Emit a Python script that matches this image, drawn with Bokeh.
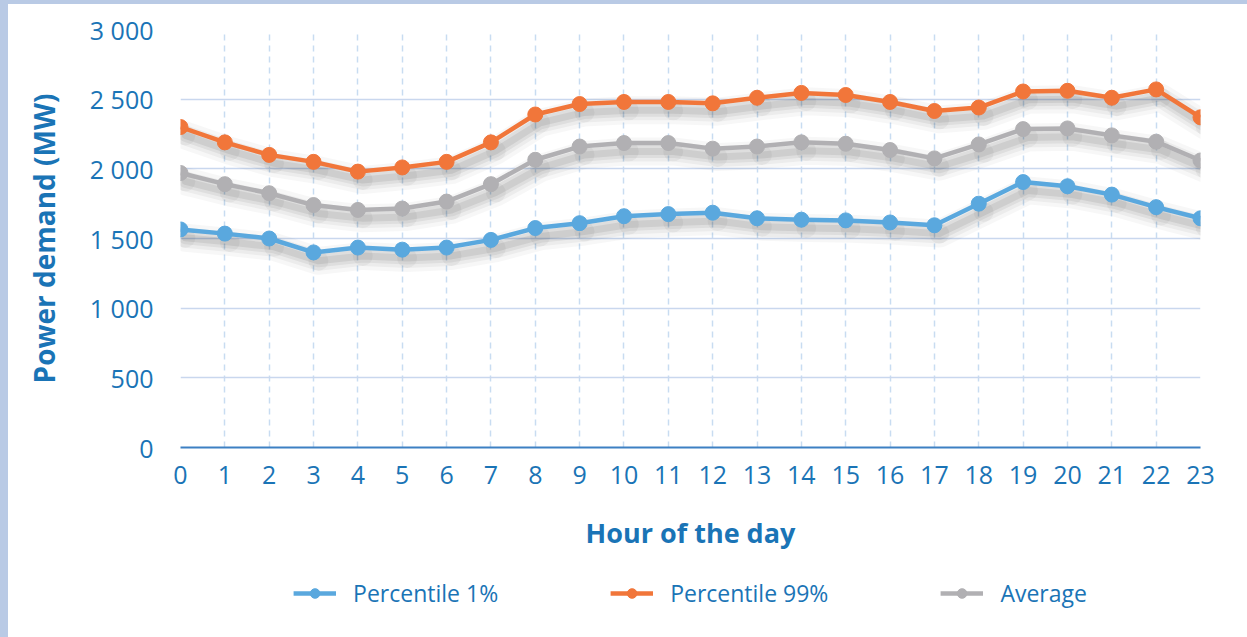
from bokeh.plotting import figure
from bokeh.models import Legend, LegendItem, Range1d, FixedTicker, Div
from bokeh.layouts import column, row
from bokeh.embed import file_html
from bokeh.resources import INLINE

hours = list(range(24))
p1 = [1565, 1535, 1500, 1400, 1435, 1420, 1435, 1490, 1575, 1610, 1660, 1675,
      1685, 1645, 1635, 1630, 1615, 1595, 1750, 1905, 1875, 1815, 1725, 1645]
p99 = [2300, 2190, 2100, 2050, 1980, 2010, 2050, 2190, 2390, 2465, 2480, 2480,
       2470, 2510, 2545, 2530, 2480, 2415, 2440, 2555, 2560, 2510, 2570, 2370]
avg = [1970, 1890, 1825, 1740, 1705, 1715, 1765, 1890, 2065, 2160, 2185, 2185,
       2145, 2160, 2190, 2180, 2135, 2075, 2175, 2285, 2290, 2240, 2195, 2060]
series_names = ["Percentile 1%", "Percentile 99%", "Average"]
y_ticks = [0, 500, 1000, 1500, 2000, 2500, 3000]
y_tick_labels = ["0", "500", "1 000", "1 500", "2 000", "2 500", "3 000"]
x_title = "Hour of the day"
y_title = "Power demand (MW)"

BLUE = "#5aa8de"
ORANGE = "#f1763a"
GREY = "#b1b0b3"
TEXT = "#1a74b6"
FRAME = "#b9cae5"
FONT = "Open Sans"

p = figure(width=1231, height=561, output_backend="svg", toolbar_location=None,
           x_range=Range1d(0, 23), y_range=Range1d(0, 3000),
           min_border_left=172, min_border_right=39, min_border_top=25,
           min_border_bottom=118)
p.outline_line_color = None
p.background_fill_color = "white"
p.border_fill_color = "white"

# soft drop shadows under the lines
sx = 0.11
sy = -60
for series in (p1, p99, avg):
    xs = [h + sx for h in hours]
    ys = [v + sy for v in series]
    for w, a in ((28, 0.03), (20, 0.045), (13, 0.06), (7, 0.07)):
        p.line(xs, ys, line_width=w, line_color="black", line_alpha=a,
               line_join="round", line_cap="round")
    p.scatter(xs, ys, size=20, fill_color="black", fill_alpha=0.04,
              line_color=None)

styles = []
for name, series, col in zip(series_names, (p1, p99, avg), (BLUE, ORANGE, GREY)):
    p.line(hours, series, line_color=col, line_width=4.5, line_join="round")
    p.scatter(hours, series, size=15, fill_color=col, line_color=col)
    styles.append((name, col))

p.xaxis.ticker = FixedTicker(ticks=hours)
p.yaxis.ticker = FixedTicker(ticks=y_ticks)
p.yaxis.major_label_overrides = {t: lab for t, lab in zip(y_ticks, y_tick_labels)}

for ax in (p.xaxis[0], p.yaxis[0]):
    ax.major_tick_line_color = None
    ax.minor_tick_line_color = None
    ax.major_label_text_font = FONT
    ax.major_label_text_font_size = "25px"
    ax.major_label_text_color = TEXT
    ax.axis_label_text_font = FONT
    ax.axis_label_text_font_style = "bold"
    ax.axis_label_text_color = TEXT

p.yaxis.axis_line_color = None
p.yaxis.major_label_standoff = 21
p.yaxis.axis_label = y_title
p.yaxis.axis_label_text_font_size = "28px"
p.yaxis.axis_label_standoff = 24

p.xaxis.axis_line_color = "#3d80c3"
p.xaxis.axis_line_width = 2
p.xaxis.major_label_standoff = 12
p.xaxis.axis_label = x_title
p.xaxis.axis_label_text_font_size = "27px"
p.xaxis.axis_label_standoff = 27

p.ygrid.grid_line_color = "#c9d7ee"
p.ygrid.grid_line_width = 1.5
p.xgrid.grid_line_color = "#c8dcf1"
p.xgrid.grid_line_width = 1.5
p.xgrid.grid_line_dash = "6 5"

# legend in its own strip below the chart (its glyph renderers sit off-range)
lf = figure(width=1231, height=56, output_backend="svg", toolbar_location=None,
            x_range=Range1d(0, 1), y_range=Range1d(0, 1),
            min_border=0)
lf.axis.visible = False
lf.grid.visible = False
lf.outline_line_color = None
items = []
for name, col in styles:
    l = lf.line(x=[-3, -2], y=[-3, -2], line_color=col, line_width=4.5)
    s = lf.scatter(x=[-3], y=[-3], size=15, fill_color=col, line_color=col)
    items.append(LegendItem(label=name, renderers=[l, s]))
legend = Legend(items=items, orientation="horizontal", location="center",
                label_text_font=FONT, label_text_font_size="23px",
                label_text_color=TEXT, glyph_width=43, glyph_height=24,
                label_standoff=17, spacing=112, border_line_color=None,
                background_fill_alpha=0, margin=0, padding=0)
lf.add_layout(legend, "center")

top_strip = Div(width=1247, height=4, margin=0, styles={"background-color": FRAME})
left_strip = Div(width=8, height=633, margin=0, styles={"background-color": FRAME})
layout = column(top_strip, row(left_strip, column(p, lf, spacing=0), spacing=0),
                spacing=0)

open("out.html", "w").write(file_html(layout, INLINE))
